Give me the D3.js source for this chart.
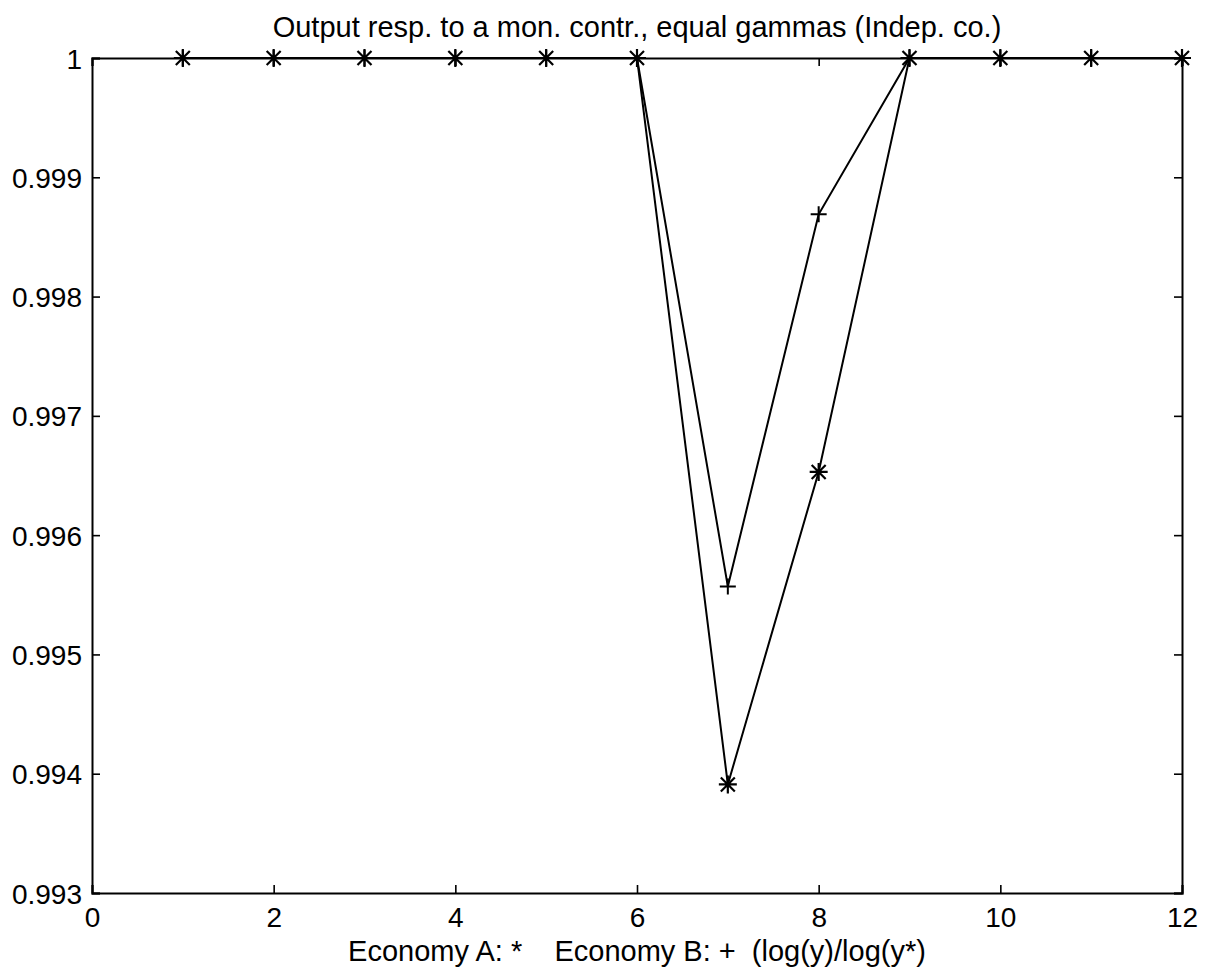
<!DOCTYPE html>
<html>
<head>
<meta charset="utf-8">
<script src="https://cdn.jsdelivr.net/npm/d3@7"></script>
<style>
  body { margin: 0; background: #fff; }
  svg { display: block; }
  text { font-family: "Liberation Sans", Arial, Helvetica, sans-serif; fill: #000; }
</style>
</head>
<body>
<svg id="chart" width="1210" height="974"></svg>
<script>
// ----- data
var periods = [1, 2, 3, 4, 5, 6, 7, 8, 9, 10, 11, 12];
var economyA = [1, 1, 1, 1, 1, 1, 0.99391, 0.99653, 1, 1, 1, 1];   // '*'
var economyB = [1, 1, 1, 1, 1, 1, 0.99557, 0.99869, 1, 1, 1, 1];   // '+'
var xTicks = [0, 2, 4, 6, 8, 10, 12];
var yTicks = [0.993, 0.994, 0.995, 0.996, 0.997, 0.998, 0.999, 1];
var titleText = "Output resp. to a mon. contr., equal gammas (Indep. co.)";
var xLabelText = "Economy A: *    Economy B: +  (log(y)/log(y*)";

drawChart();

function drawChart() {
    var svg = d3.select("#chart");
    var margin = { top: 58, right: 28, bottom: 81, left: 92 },
        width = +svg.attr("width") - margin.left - margin.right,
        height = +svg.attr("height") - margin.top - margin.bottom;

    var g = svg.append("g").attr("transform", "translate(" + margin.left + "," + margin.top + ")");

    var x = d3.scaleLinear().domain([0, 12]).range([0, width]);
    var y = d3.scaleLinear().domain([0.993, 1]).range([height, 0]);

    var tickLen = 8;

    // bottom axis: labels outside, ticks inward
    var xAxis = g.append("g")
        .attr("transform", "translate(0," + height + ")")
        .call(d3.axisBottom(x).tickValues(xTicks).tickSize(-tickLen).tickPadding(14).tickFormat(d3.format("d")));
    // top axis ticks only
    var xAxisTop = g.append("g")
        .call(d3.axisTop(x).tickValues(xTicks).tickSize(-tickLen).tickFormat(""));
    // left axis
    var yAxis = g.append("g")
        .call(d3.axisLeft(y).tickValues(yTicks).tickSize(-tickLen).tickPadding(10)
            .tickFormat(function (d) { return d === 1 ? "1" : d3.format(".3f")(d); }));
    // right axis ticks only
    var yAxisRight = g.append("g")
        .attr("transform", "translate(" + width + ",0)")
        .call(d3.axisRight(y).tickValues(yTicks).tickSize(-tickLen).tickFormat(""));

    [xAxis, xAxisTop, yAxis, yAxisRight].forEach(function (ax) {
        ax.select(".domain").attr("stroke", "#000").attr("stroke-width", 2);
        ax.selectAll(".tick line").attr("stroke", "#000").attr("stroke-width", 1.6);
        ax.selectAll(".tick text")
            .attr("font-size", 28)
            .attr("font-family", "'Liberation Sans', Arial, sans-serif")
            .attr("fill", "#000");
    });
    yAxis.selectAll(".tick text").attr("dy", "0.36em");

    var line = d3.line()
        .x(function (d) { return x(d.t); })
        .y(function (d) { return y(d.v); });

    var seriesA = periods.map(function (t, i) { return { t: t, v: economyA[i] }; });
    var seriesB = periods.map(function (t, i) { return { t: t, v: economyB[i] }; });

    g.append("path")
        .datum(seriesB)
        .attr("fill", "none")
        .attr("stroke", "#000")
        .attr("stroke-width", 2)
        .attr("d", line);

    g.append("path")
        .datum(seriesA)
        .attr("fill", "none")
        .attr("stroke", "#000")
        .attr("stroke-width", 2)
        .attr("d", line);

    // '+' markers
    var p = 8;
    g.selectAll(".mark-plus")
        .data(seriesB)
        .enter().append("path")
        .attr("class", "mark-plus")
        .attr("transform", function (d) { return "translate(" + x(d.t) + "," + y(d.v) + ")"; })
        .attr("d", "M" + (-p) + ",0H" + p + "M0," + (-p) + "V" + p)
        .attr("stroke", "#000")
        .attr("stroke-width", 2)
        .attr("fill", "none");

    // '*' markers
    var s = 9, dg = 7;
    g.selectAll(".mark-star")
        .data(seriesA)
        .enter().append("path")
        .attr("class", "mark-star")
        .attr("transform", function (d) { return "translate(" + x(d.t) + "," + y(d.v) + ")"; })
        .attr("d", "M0," + (-s) + "V" + s +
                   "M" + (-s) + ",0H" + s +
                   "M" + (-dg) + "," + (-dg) + "L" + dg + "," + dg +
                   "M" + (-dg) + "," + dg + "L" + dg + "," + (-dg))
        .attr("stroke", "#000")
        .attr("stroke-width", 2.2)
        .attr("fill", "none");

    // title
    svg.append("text")
        .attr("x", margin.left + width / 2)
        .attr("y", 37)
        .attr("text-anchor", "middle")
        .attr("font-size", 29)
        .text(titleText);

    // x label
    svg.append("text")
        .attr("x", margin.left + width / 2)
        .attr("y", 961)
        .attr("text-anchor", "middle")
        .attr("font-size", 29)
        .style("white-space", "pre")
        .text(xLabelText);
}
</script>
</body>
</html>
